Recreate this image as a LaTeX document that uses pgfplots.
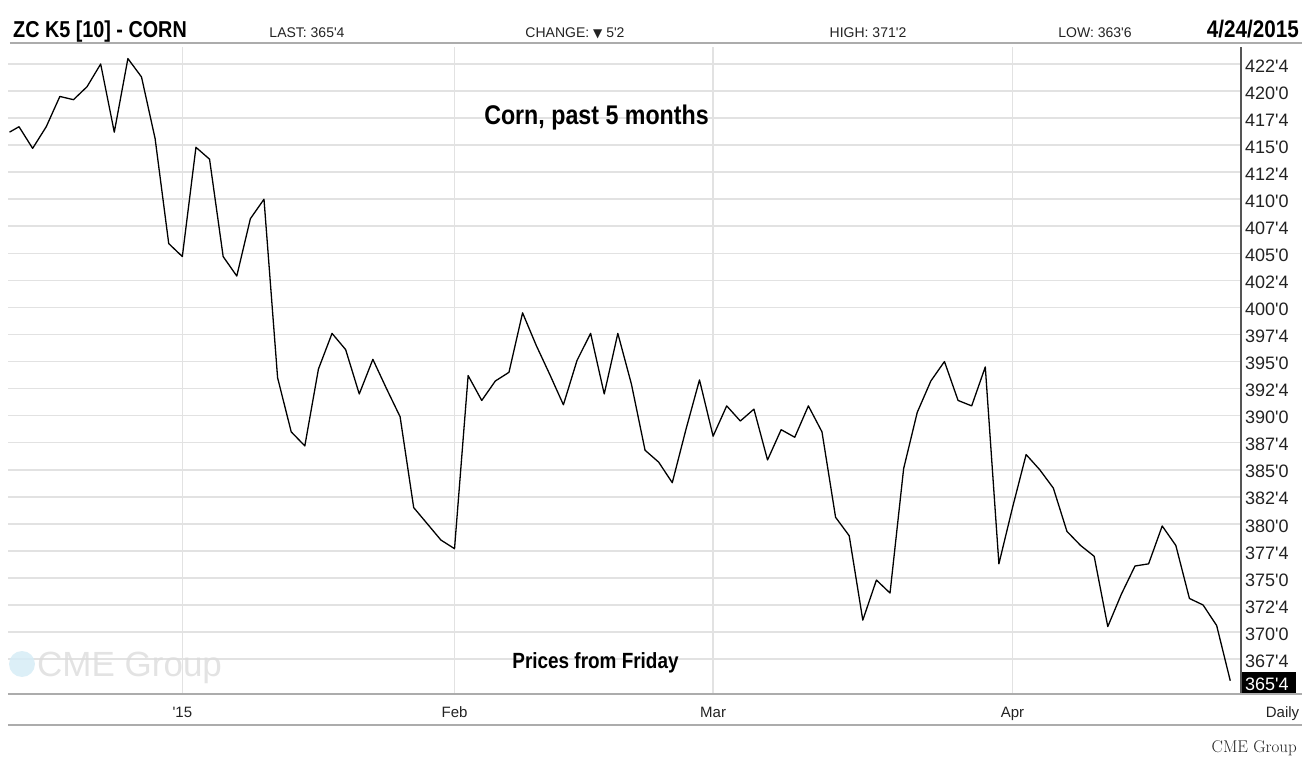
\documentclass[border=0pt]{standalone}
\usepackage{fontspec}
\usepackage{pgfplots}
\pgfplotsset{compat=1.18}
\newfontfamily\lab{Liberation Sans}
\newfontfamily\cond{Liberation Sans}[FakeStretch=0.86]
\newfontfamily\dejavu{DejaVu Sans}
\definecolor{gridc}{HTML}{E2E2E2}
\definecolor{rulec}{HTML}{ACACAC}
\definecolor{axisc}{HTML}{555555}
\definecolor{textc}{HTML}{222222}
\definecolor{wmc}{HTML}{DCDCDC}
\definecolor{globec}{HTML}{D6ECF6}
\begin{document}
\begin{tikzpicture}[x=1pt,y=1pt]
\begin{axis}[
  scale only axis,
  width=1233pt, height=647pt,
  xmin=-12.81, xmax=77.79, ymin=364.27, ymax=424.07,
  axis line style={draw=none},
  major tick length=0pt, tick style={draw=none},
  grid=major, major grid style={color=gridc, line width=1.6pt},
  xtick={0,20,39,61},
  xticklabels={'15,Feb,Mar,Apr},
  xticklabel style={font=\lab\fontsize{15}{16}\selectfont, text=textc, inner sep=0pt, text height=11pt, text depth=0pt, anchor=north, yshift=-12pt},
  ytick={367.5,370,372.5,375,377.5,380,382.5,385,387.5,390,392.5,395,397.5,400,402.5,405,407.5,410,412.5,415,417.5,420,422.5},
  yticklabels={367'4,370'0,372'4,375'0,377'4,380'0,382'4,385'0,387'4,390'0,392'4,395'0,397'4,400'0,402'4,405'0,407'4,410'0,412'4,415'0,417'4,420'0,422'4},
  yticklabel pos=right,
  yticklabel style={font=\lab\fontsize{18}{19}\selectfont, text=textc, inner sep=0pt, anchor=west, xshift=4pt, yshift=-2pt},
]
\coordinate (O) at (rel axis cs:0,0);
\addplot[black, line width=1.3pt, line join=round] coordinates {
(-12.7,416.2) (-12,416.7) (-11,414.7) (-10,416.7) (-9,419.5) (-8,419.2)
(-7,420.4) (-6,422.5) (-5,416.2) (-4,423.0) (-3,421.3) (-2,415.6)
(-1,405.9) (0,404.7) (1,414.8) (2,413.7) (3,404.7) (4,402.9)
(5,408.2) (6,410.0) (7,393.5) (8,388.5) (9,387.2) (10,394.3)
(11,397.6) (12,396.1) (13,392.0) (14,395.2) (15,392.5) (16,389.9)
(17,381.5) (18,380.0) (19,378.5) (20,377.7) (21,393.7) (22,391.4)
(23,393.2) (24,394.0) (25,399.5) (26,396.5) (27,393.8) (28,391.0)
(29,395.1) (30,397.6) (31,392.0) (32,397.6) (33,392.9) (34,386.8)
(35,385.7) (36,383.8) (37,388.7) (38,393.3) (39,388.1) (40,390.9)
(41,389.5) (42,390.6) (43,385.9) (44,388.7) (45,388.0) (46,390.9)
(47,388.5) (48,380.6) (49,378.9) (50,371.1) (51,374.8) (52,373.6)
(53,385.1) (54,390.3) (55,393.2) (56,395.0) (57,391.4) (58,390.9)
(59,394.5) (60,376.3) (61,381.5) (62,386.4) (63,385.0) (64,383.3)
(65,379.3) (66,378.0) (67,377.0) (68,370.5) (69,373.5) (70,376.1)
(71,376.3) (72,379.8) (73,378.0) (74,373.1) (75,372.5) (76,370.6)
(77,365.5)
};
\end{axis}
\begin{scope}[shift={(O)}, xshift=-8pt, yshift=-64pt]
% watermark
\fill[globec, fill opacity=0.85] (22,94) circle (13);
\node[anchor=base west, inner sep=0pt, text=wmc, text opacity=0.8, font=\lab\fontsize{35}{40}\selectfont] at (37,81) {CME Group};
% frame lines
\draw[rulec, line width=2pt] (10,715) -- (1302,715);
\draw[axisc, line width=1.5pt] (1241,64) -- (1241,711);
\draw[rulec, line width=2pt] (8,64) -- (1302,64);
\draw[rulec, line width=2pt] (8,33) -- (1302,33);
% current price box
\fill[black] (1242,65) rectangle (1296,86);
\node[anchor=west, inner sep=0pt, text=white, font=\lab\fontsize{18}{19}\selectfont] at (1245,74) {365'4};
% header
\node[anchor=base west, inner sep=0pt, text=black, font=\cond\bfseries\fontsize{23}{25}\selectfont] at (13,720.5) {ZC K5 [10] - CORN};
\node[anchor=base, inner sep=0pt, text=textc, font=\lab\fontsize{14}{16}\selectfont] at (307,720) {LAST: 365'4};
\node[anchor=base, inner sep=0pt, text=textc, font=\lab\fontsize{14}{16}\selectfont] at (575,720) {CHANGE: {\dejavu\fontsize{12}{14}\selectfont ▼} 5'2};
\node[anchor=base, inner sep=0pt, text=textc, font=\lab\fontsize{14}{16}\selectfont] at (868,720) {HIGH: 371'2};
\node[anchor=base, inner sep=0pt, text=textc, font=\lab\fontsize{14}{16}\selectfont] at (1095,720) {LOW: 363'6};
\node[anchor=base east, inner sep=0pt, text=black, font=\cond\bfseries\fontsize{24}{26}\selectfont] at (1299,720.5) {4/24/2015};
% annotations
\node[anchor=base, inner sep=0pt, text=black, font=\cond\bfseries\fontsize{27}{29}\selectfont] at (596.5,633) {Corn, past 5 months};
\node[anchor=base, inner sep=0pt, text=black, font=\cond\bfseries\fontsize{22}{24}\selectfont] at (595.5,89) {Prices from Friday};
% x-axis extra label
\node[anchor=north, inner sep=0pt, text height=11pt, text depth=0pt, text=textc, font=\lab\fontsize{15}{16}\selectfont] at (1282.5,52) {Daily};
% source
\node[anchor=base east, inner sep=0pt, text=textc, font=\fontsize{17}{18}\selectfont] at (1297,6) {CME Group};
\end{scope}
\pgfresetboundingbox
\path[use as bounding box] ([xshift=-8pt,yshift=-64pt]O) rectangle ([xshift=1294pt,yshift=694pt]O);
\end{tikzpicture}
\end{document}
